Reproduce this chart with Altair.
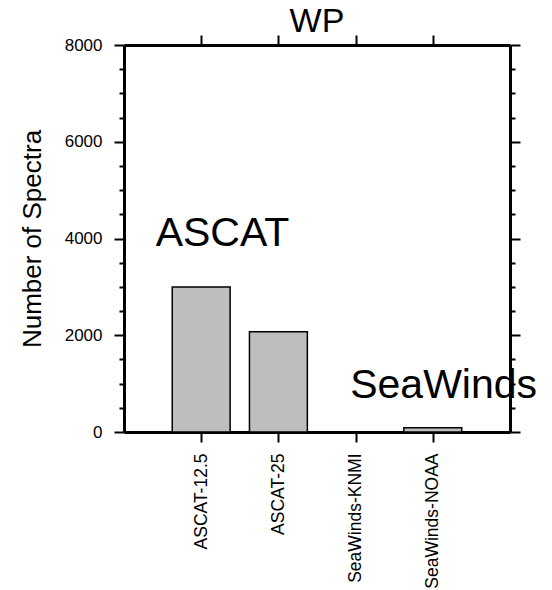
import altair as alt
import pandas as pd

categories = ["ASCAT-12.5", "ASCAT-25", "SeaWinds-KNMI", "SeaWinds-NOAA"]
counts = [3000, 2070, 0, 90]

annot_text = ["ASCAT", "SeaWinds"]
annot_x = [0.41, 2.93]
annot_y = [3850, 700]

major_y = [0, 2000, 4000, 6000, 8000]
minor_y = [v for v in range(0, 8001, 500) if v % 2000 != 0]
x_ticks = [1, 2, 3, 4]

FONT = "Liberation Sans"
XDOM = [0, 5]
YDOM = [0, 8000]

df = pd.DataFrame({"cat": categories, "count": counts,
                   "pos": list(range(1, len(categories) + 1))})
ann = pd.DataFrame({"t": annot_text, "x": annot_x, "y": annot_y})

label_expr = "[''," + ",".join("'%s'" % c for c in categories) + ",''][datum.value]"

xs = alt.Scale(domain=XDOM, nice=False, zero=False)
ys = alt.Scale(domain=YDOM, nice=False, zero=False)

base = alt.Chart(df).transform_calculate(
    x0="datum.pos - 0.375", x1="datum.pos + 0.375", y0="0")

bars = base.mark_bar(color="#bebebe", stroke="black", strokeWidth=1.5).encode(
    x=alt.X("x0:Q", scale=xs, axis=alt.Axis(
        orient="bottom", values=x_ticks, labelExpr=label_expr, labelAngle=270,
        labelFontSize=17.5, labelPadding=11, tickSize=10, tickWidth=2,
        domainWidth=3, title=None, grid=False, labelFont=FONT,
        domainColor="black", tickColor="black", labelColor="black")),
    x2="x1:Q",
    y=alt.Y("count:Q", scale=ys, axis=alt.Axis(
        orient="left", values=major_y, format="d", labelFontSize=17,
        labelPadding=12, tickSize=10, tickWidth=2, domainWidth=3, grid=False,
        title="Number of Spectra", titleFontSize=26, titleFontWeight="normal",
        titleFont=FONT, titlePadding=19, labelFont=FONT,
        domainColor="black", tickColor="black", labelColor="black",
        titleColor="black")),
    y2="y0:Q",
)

l2 = base.mark_bar(opacity=0).encode(
    x=alt.X("x0:Q", scale=xs, axis=alt.Axis(
        orient="top", values=x_ticks, labels=False, tickSize=10, tickWidth=2,
        domainWidth=3, title=None, grid=False, domainColor="black",
        tickColor="black")),
    x2="x1:Q",
    y=alt.Y("count:Q", scale=ys, axis=alt.Axis(
        orient="left", values=minor_y, labels=False, tickSize=5, tickWidth=2,
        domain=False, title=None, grid=False, tickColor="black")),
    y2="y0:Q",
)

l3 = base.mark_bar(opacity=0).encode(
    x=alt.X("x0:Q", scale=xs, axis=None),
    x2="x1:Q",
    y=alt.Y("count:Q", scale=ys, axis=alt.Axis(
        orient="right", values=major_y, labels=False, tickSize=10, tickWidth=2,
        domainWidth=3, title=None, grid=False, domainColor="black",
        tickColor="black")),
    y2="y0:Q",
)

l4 = base.mark_bar(opacity=0).encode(
    x=alt.X("x0:Q", scale=xs, axis=None),
    x2="x1:Q",
    y=alt.Y("count:Q", scale=ys, axis=alt.Axis(
        orient="right", values=minor_y, labels=False, tickSize=5, tickWidth=2,
        domain=False, title=None, grid=False, tickColor="black")),
    y2="y0:Q",
)

text = alt.Chart(ann).mark_text(align="left", baseline="alphabetic",
                                fontSize=41, font=FONT, color="black").encode(
    x=alt.X("x:Q", scale=xs, axis=None),
    y=alt.Y("y:Q", scale=ys, axis=None),
    text="t:N",
)

chart = alt.layer(bars, l2, l3, l4, text).resolve_scale(
    x="independent", y="independent"
).properties(
    width=386, height=387,
    title=alt.Title("WP", fontSize=34, fontWeight="normal", font=FONT,
                    color="black", offset=-5, anchor="middle"),
    autosize=alt.AutoSizeParams(type="none"),
    padding={"left": 124, "top": 45, "right": 42, "bottom": 158},
).configure_view(stroke=None).configure(background="white")

chart.save("out.html", embed_options={"renderer": "svg", "actions": False})
